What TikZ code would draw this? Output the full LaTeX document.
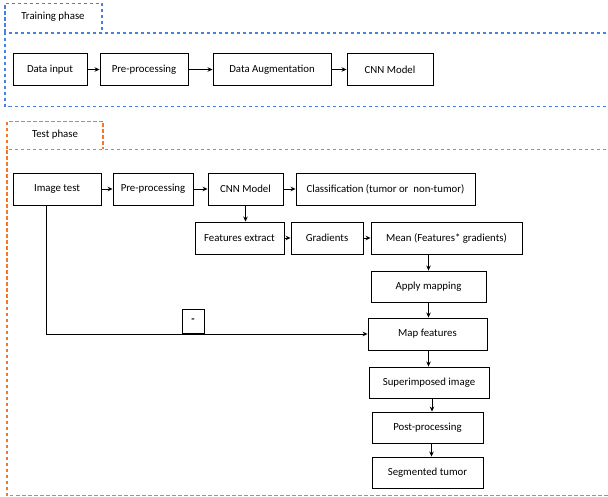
\documentclass[tikz,border=0pt]{standalone}
\usepackage{fontspec}
\setmainfont{Carlito}
\usepackage{xcolor}
\usetikzlibrary{arrows.meta}

\definecolor{trainblue}{RGB}{70,130,220}
\definecolor{testorange}{RGB}{245,120,40}

\begin{document}
\begin{tikzpicture}[x=1pt, y=-1pt, font=\fontsize{10.8}{12}\selectfont,
    block/.style={draw, line width=0.9pt, rectangle, minimum height=32pt, inner sep=1pt},
    phase/.style={line width=1.3pt, dash pattern=on 3.5pt off 2.5pt},
    flow/.style={line width=0.9pt, -{Stealth[length=5pt,width=4.5pt]}}]
\clip (0,0) rectangle (608,497);

% training phase
\draw [phase, draw=trainblue] (5,33) -- (5,3.5) -- (102,3.5) -- (102,33);
\node at (53,17) {Training phase};
\draw [phase, draw=trainblue] (612,33) -- (5,33) -- (5,106.5) -- (612,106.5);

\node [block, minimum width=74pt] (datain) at (50,69.5) {Data input};
\node [block, minimum width=88pt] (preproc) at (144,69.5) {Pre-processing};
\node [block, minimum width=118pt] (augment) at (272,69.5) {Data Augmentation};
\node [block, minimum width=86pt] (cnntrain) at (390,69.5) {CNN Model};

\draw [flow] (datain) -- (preproc);
\draw [flow] (preproc) -- (augment);
\draw [flow] (augment) -- (cnntrain);

% test phase
\draw [phase, draw=testorange] (7,149.5) -- (7,121.5) -- (103,121.5) -- (103,149.5);
\node at (55,135) {Test phase};
\draw [phase, draw=testorange] (612,149.5) -- (7,149.5) -- (7,495.5) -- (612,495.5);

\node [block, minimum width=88pt] (imgtest) at (57,189) {Image test};
\node [block, minimum width=80pt] (preproctest) at (153,189) {Pre-processing};
\node [block, minimum width=75pt] (cnntest) at (245.5,189) {CNN Model};
\node [block, minimum width=179pt] (classif) at (385.5,189) {Classification (tumor or~ non-tumor)};

\node [block, minimum width=89pt] (featext) at (239.5,238) {Features extract};
\node [block, minimum width=72pt] (grad) at (327,238) {Gradients};
\node [block, minimum width=151pt] (mean) at (446.5,238) {Mean (Features* gradients)};

\node [block, minimum width=115pt, minimum height=31pt] (applymap) at (428.5,286.5) {Apply mapping};
\node [block, minimum width=119pt] (mapfeat) at (427.5,334) {Map features};
\node [block, minimum width=120pt, minimum height=31pt] (superimp) at (429,382.5) {Superimposed image};
\node [block, minimum width=111pt, minimum height=31pt] (postproc) at (427.5,427.5) {Post-processing};
\node [block, minimum width=111pt, minimum height=31pt] (segtumor) at (427.5,472.5) {Segmented tumor};

\draw [flow] (imgtest) -- (preproctest);
\draw [flow] (preproctest) -- (cnntest);
\draw [flow] (cnntest) -- (classif);
\draw [flow] (cnntest.south) -- (cnntest.south |- featext.north);
\draw [flow] (featext) -- (grad);
\draw [flow] (grad) -- (mean);
\draw [flow] (mean.south -| applymap) -- (applymap.north);
\draw [flow] (applymap.south) -- (applymap.south |- mapfeat.north);
\draw [flow] ([xshift=1pt]mapfeat.south) -- ([xshift=1pt]mapfeat.south |- superimp.north);
\draw [flow] ([xshift=3pt]superimp.south) -- ([xshift=3pt]superimp.south |- postproc.north);
\draw [flow] ([xshift=4pt]postproc.south) -- ([xshift=4pt]postproc.south |- segtumor.north);

\coordinate (imgout) at ([xshift=-11pt]imgtest.south);
\draw [flow] (imgout) |- (mapfeat.west);
\node [block, minimum width=22pt, minimum height=24pt, anchor=south] (minus) at (193,333.5) {\textbf{-}};
\end{tikzpicture}
\end{document}
